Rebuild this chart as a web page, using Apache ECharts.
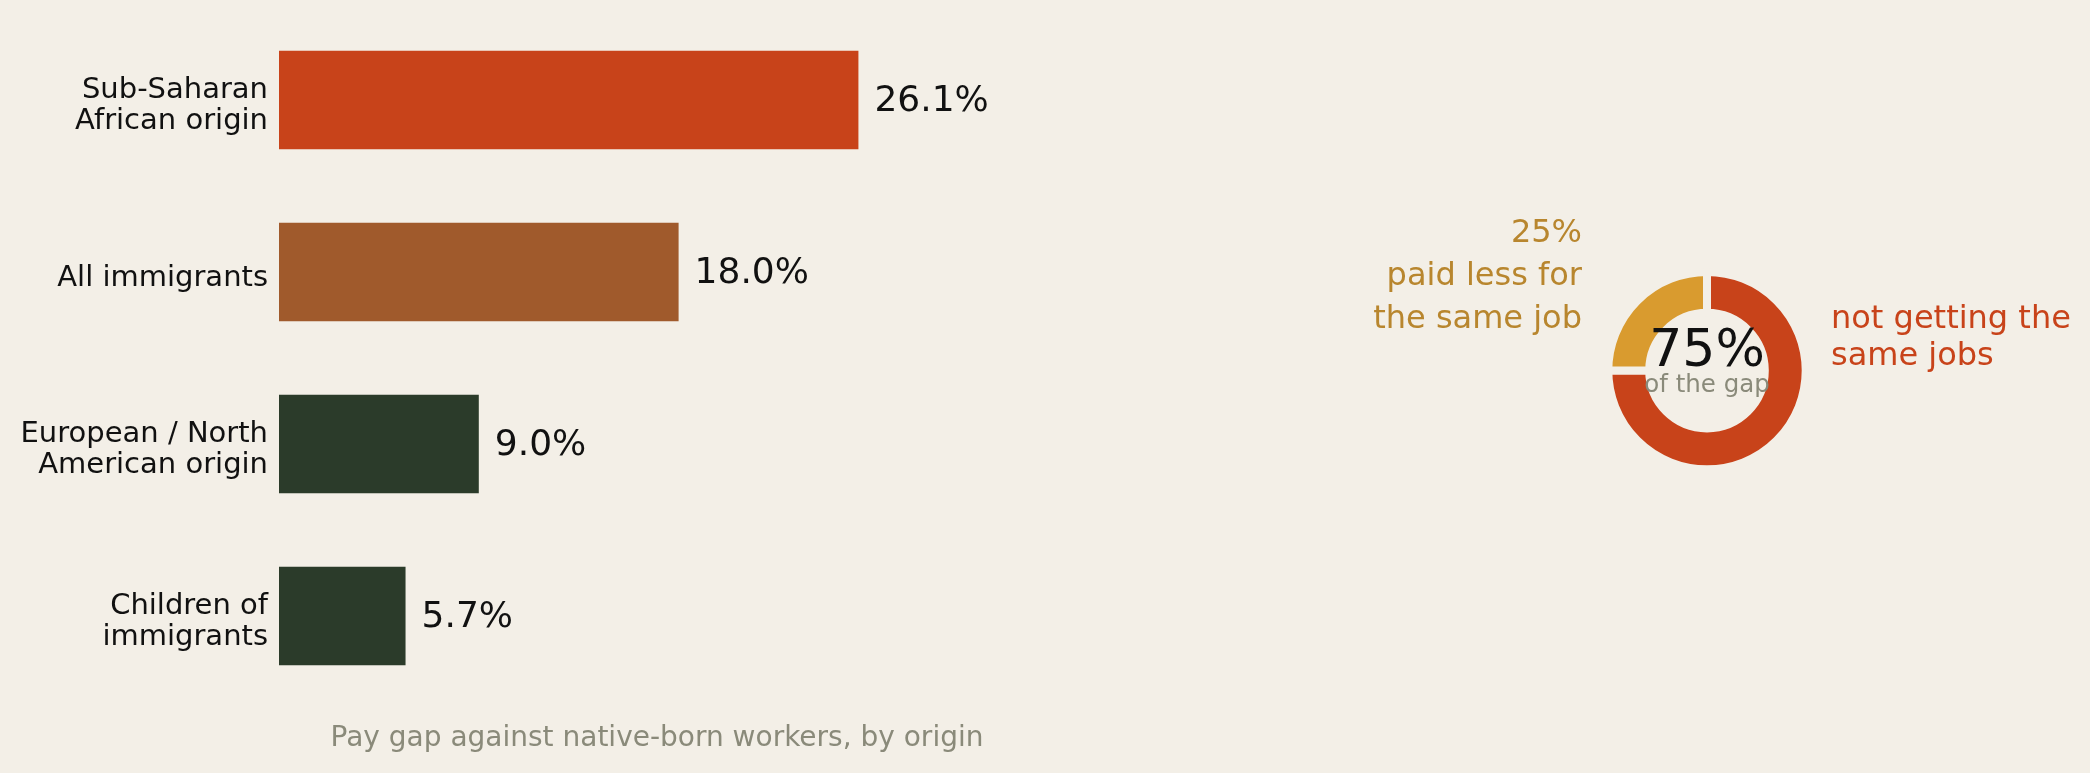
<!DOCTYPE html>
<html>
<head>
<meta charset="utf-8">
<script src="https://cdn.jsdelivr.net/npm/echarts@6/dist/echarts.min.js"></script>
<style>
html,body{margin:0;padding:0;background:#f3efe7;}
#c{width:2090px;height:773px;}
</style>
</head>
<body>
<div id="c"></div>
<script>
// ---- data ----
const categories = ['Sub-Saharan\nAfrican origin', 'All immigrants', 'European / North\nAmerican origin', 'Children of\nimmigrants'];
const payGap = [26.1, 18.0, 9.0, 5.7];
const barColors = ['#c8431a', '#a05a2c', '#2b3b2a', '#2b3b2a'];
const gapShares = [75, 25];
const gapShareNames = ['not getting the same jobs', 'paid less for the same job'];
const gapShareColors = ['#c8431a', '#d99b2f'];
const subtitle = 'Pay gap against native-born workers, by origin';

const FONT = 'DejaVu Sans';
const BG = '#f3efe7';
const chart = echarts.init(document.getElementById('c'));

chart.setOption({
  backgroundColor: BG,
  animation: false,
  textStyle: { fontFamily: FONT },
  grid: [
    { left: 279, top: 14, width: 888, height: 688, containLabel: false },
    { left: 279, top: 20, width: 888, height: 688, containLabel: false }
  ],
  xAxis: [
    { type: 'value', min: 0, max: 40, show: false, gridIndex: 0 },
    { type: 'value', min: 0, max: 40, show: false, gridIndex: 1 }
  ],
  yAxis: [
    {
      type: 'category', inverse: true, data: categories, gridIndex: 0,
      axisLine: { show: false }, axisTick: { show: false }, splitLine: { show: false },
      axisLabel: { show: false }
    },
    {
      type: 'category', inverse: true, data: categories, gridIndex: 1,
      axisLine: { show: false }, axisTick: { show: false }, splitLine: { show: false },
      axisLabel: { fontFamily: FONT, fontSize: 29, lineHeight: 31.5, color: '#111', margin: 11, align: 'right' }
    }
  ],
  series: [
    {
      type: 'bar',
      xAxisIndex: 0, yAxisIndex: 0,
      barCategoryGap: '42.6%',
      data: payGap.map((v, i) => ({ value: v, itemStyle: { color: barColors[i] } })),
      label: {
        show: true, position: 'right', distance: 16, offset: [0, 2],
        fontFamily: FONT, fontSize: 36, color: '#111',
        formatter: p => p.value.toFixed(1) + '%'
      }
    },
    {
      type: 'pie',
      center: [1707, 370.6],
      radius: [57.8, 98.7],
      startAngle: 90,
      clockwise: true,
      silent: true,
      label: { show: false },
      labelLine: { show: false },
      itemStyle: { borderColor: BG, borderWidth: 8 },
      data: gapShares.map((v, i) => ({ value: v, name: gapShareNames[i], itemStyle: { color: gapShareColors[i] } }))
    }
  ],
  graphic: [
    { type: 'text', z: 100, x: 657, y: 739, style: { text: subtitle, font: '28px "DejaVu Sans"', fill: '#8a8a7a', textAlign: 'center', textVerticalAlign: 'middle' } },
    { type: 'text', z: 100, x: 1707, y: 352, style: { text: gapShares[0] + '%', font: '52px "DejaVu Sans"', fill: '#111', textAlign: 'center', textVerticalAlign: 'middle' } },
    { type: 'text', z: 100, x: 1707, y: 386, style: { text: 'of the gap', font: '24.5px "DejaVu Sans"', fill: '#8a8a7a', textAlign: 'center', textVerticalAlign: 'middle' } },
    { type: 'text', z: 100, x: 1582, y: 277, style: { text: gapShares[1] + '%\npaid less for\nthe same job', font: '32px "DejaVu Sans"', lineHeight: 43, fill: '#b8862e', textAlign: 'right', textVerticalAlign: 'middle' } },
    { type: 'text', z: 100, x: 1831, y: 338, style: { text: 'not getting the\nsame jobs', font: '32px "DejaVu Sans"', lineHeight: 36.6, fill: '#c8431a', textAlign: 'left', textVerticalAlign: 'middle' } }
  ]
});
</script>
</body>
</html>
